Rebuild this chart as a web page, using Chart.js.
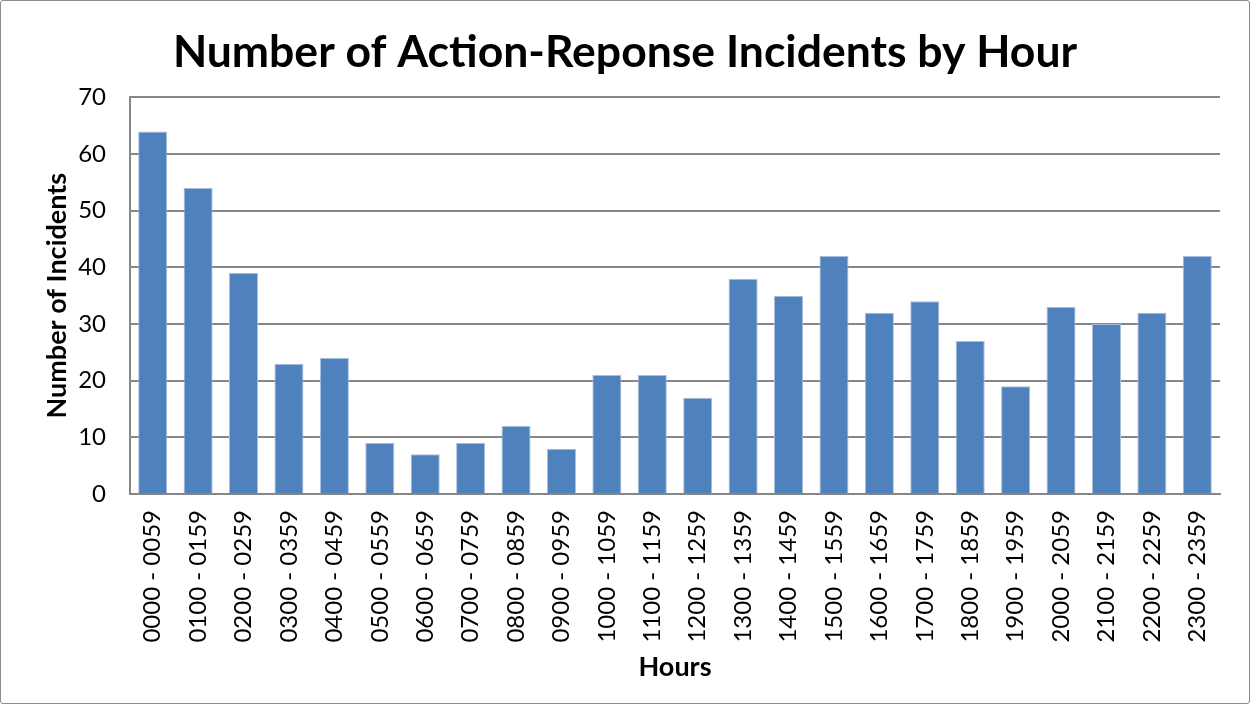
<!DOCTYPE html>
<html>
<head>
<meta charset="utf-8">
<script src="https://cdn.jsdelivr.net/npm/chart.js@4"></script>
<style>
  html, body { margin: 0; padding: 0; background: #fff; }
  #wrap {
    width: 1250px; height: 704px; box-sizing: border-box;
    border: 1px solid #8c8c8c; border-radius: 3px;
  }
  #canvas { display: block; }
</style>
</head>
<body>
<div id="wrap"><canvas id="canvas" width="1248" height="702"></canvas></div>
<script>
'use strict';

const hours = [
  '0000 - 0059', '0100 - 0159', '0200 - 0259', '0300 - 0359', '0400 - 0459', '0500 - 0559',
  '0600 - 0659', '0700 - 0759', '0800 - 0859', '0900 - 0959', '1000 - 1059', '1100 - 1159',
  '1200 - 1259', '1300 - 1359', '1400 - 1459', '1500 - 1559', '1600 - 1659', '1700 - 1759',
  '1800 - 1859', '1900 - 1959', '2000 - 2059', '2100 - 2159', '2200 - 2259', '2300 - 2359',
];
const incidents = [64, 54, 39, 23, 24, 9, 7, 9, 12, 8, 21, 21, 17, 38, 35, 42, 32, 34, 27, 19, 33, 30, 32, 42];

const FONT = 'Lato, "Open Sans", sans-serif';
const GRID = '#868686';

const ctx = document.getElementById('canvas').getContext('2d');

new Chart(ctx, {
  type: 'bar',
  data: {
    labels: hours,
    datasets: [
      {
        data: incidents,
        backgroundColor: '#4f81bd',
        borderColor: '#a7bfdd',
        borderWidth: { top: 1, left: 1, right: 1, bottom: 0 },
        barPercentage: 0.64,
        categoryPercentage: 1,
      },
    ],
  },
  options: {
    responsive: false,
    animation: false,
    scales: {
      x: {
        grid: { display: false, drawTicks: false },
        border: { color: GRID, width: 2 },
        ticks: {
          color: '#000',
          font: { family: FONT, size: 24 },
          minRotation: 90,
          maxRotation: 90,
          autoSkip: false,
          padding: 16,
        },
        title: {
          display: true,
          text: 'Hours',
          color: '#000',
          font: { family: FONT, size: 27, weight: 'bold' },
          padding: { top: 4, bottom: 20 },
        },
        afterFit: (scale) => { scale.height = 209; },
      },
      y: {
        min: 0,
        max: 70,
        ticks: {
          stepSize: 10,
          color: '#000',
          font: { family: FONT, size: 24 },
          padding: 24,
        },
        grid: { color: GRID, lineWidth: 2, drawTicks: false },
        border: { color: GRID, width: 2 },
        title: {
          display: true,
          text: 'Number of Incidents',
          color: '#000',
          font: { family: FONT, size: 27, weight: 'bold' },
          padding: { top: 40, bottom: 0 },
        },
        afterFit: (scale) => { scale.width = 129; },
      },
      // empty right-hand gutter so the title stays centred on the whole canvas
      gutter: {
        type: 'linear',
        position: 'right',
        grid: { display: false, drawTicks: false },
        border: { display: false },
        ticks: { display: false },
        afterFit: (scale) => { scale.width = 29; },
      },
    },
    plugins: {
      legend: { display: false },
      tooltip: { enabled: false },
      title: {
        display: true,
        text: 'Number of Action-Reponse Incidents by Hour',
        color: '#000',
        font: { family: FONT, size: 44.5, weight: 'bold' },
        padding: { top: 25, bottom: 18 },
      },
    },
  },
});
</script>
</body>
</html>
